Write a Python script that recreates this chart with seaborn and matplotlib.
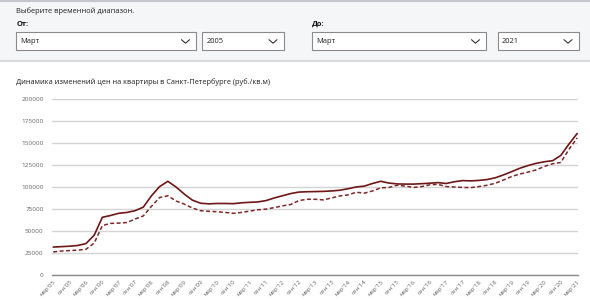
import numpy as np
import pandas as pd
import matplotlib
matplotlib.use('Agg')
import matplotlib.pyplot as plt
from matplotlib.patches import Rectangle
import seaborn as sns

# квартальные значения, март 2005 - март 2021 (руб./кв.м)
price_solid = [31500, 32000, 32500, 33300, 35500, 45000, 65500, 67500, 70000, 71000,
               73000, 77000, 90000, 100500, 106500, 100000, 92000, 85000, 81500, 80800,
               81200, 81200, 81000, 82000, 82500, 83000, 84500, 87500, 90000, 92500,
               94200, 94600, 94800, 95000, 95500, 96300, 98000, 100000, 101000, 104000,
               106500, 104500, 103500, 103300, 103300, 103800, 104300, 105000, 104000, 106000,
               107300, 107000, 107500, 108500, 110500, 113800, 117500, 121400, 124500, 127000,
               128800, 130000, 136000, 149000, 161000]
price_dashed = [26000, 27000, 27500, 28000, 29000, 36000, 56000, 58500, 58800, 59500,
                63500, 67000, 78000, 88000, 90000, 84000, 80500, 76000, 73000, 72300,
                71800, 71000, 70000, 71000, 72500, 74000, 74800, 76500, 78500, 80000,
                84500, 86000, 86000, 85300, 87500, 89800, 91000, 94000, 93000, 95500,
                99000, 99500, 102000, 101000, 99500, 100500, 102500, 103000, 100500, 100000,
                99500, 99300, 100500, 102000, 104300, 108000, 112000, 114800, 117000, 119500,
                123500, 126500, 128000, 143000, 156000]
years = list(range(5, 22))
tick_labels = []
for y in years:
    tick_labels.append("мар'%02d" % y)
    if y < 21:
        tick_labels.append("сен'%02d" % y)
y_ticks = [0, 25000, 50000, 75000, 100000, 125000, 150000, 175000, 200000]

df = pd.DataFrame({
    'q': np.arange(len(price_solid)),
    'solid': price_solid,
    'dashed': price_dashed,
})

sns.set_style('white')
plt.rcParams['font.family'] = ['Open Sans', 'DejaVu Sans']

fig = plt.figure(figsize=(5.9, 3.0), dpi=100)
W, H = 590, 300

# верхняя панель выбора диапазона
top = fig.add_axes([0, 1 - 62 / H, 1, 62 / H])
top.set_xlim(0, W)
top.set_ylim(62, 0)
top.axis('off')
top.add_patch(Rectangle((0, 0), W, 60, facecolor='#f4f6f8', edgecolor='none'))
top.plot([0, W], [0.8, 0.8], color='#c4c7ca', lw=1.5)
top.plot([0, W], [60.5, 60.5], color='#d9dbdd', lw=1.5)
top.text(16.5, 11, 'Выберите временной диапазон.', fontsize=5.4, color='#222222', va='center')
top.text(16.5, 24, 'От:', fontsize=5.4, color='#111111', va='center', weight='bold')
top.text(312, 24, 'До:', fontsize=5.4, color='#111111', va='center', weight='bold')

boxes = [(16, 196, 'Март'), (202, 283.5, '2005'), (312, 486, 'Март'), (497.5, 578.5, '2021')]
for x0, x1, label in boxes:
    top.add_patch(Rectangle((x0, 32.3), x1 - x0, 17.7, facecolor='white',
                            edgecolor='#8a8a8a', lw=0.8))
    top.text(x0 + 4.5, 41.5, label, fontsize=5.4, color='#222222', va='center')
    cx = x1 - 10.5
    top.plot([cx - 4, cx, cx + 4], [39.7, 43.2, 39.7], color='#333333', lw=0.8)

fig.text(16 / W, 1 - 82.5 / H, 'Динамика изменений цен на квартиры в Санкт-Петербурге (руб./кв.м)',
         fontsize=5.3, color='#222222', va='center')

# график
ax = fig.add_axes([52 / W, 1 - 274.7 / H, 526 / W, 175.4 / H])
sns.lineplot(data=df, x='q', y='solid', ax=ax, color='#6e1618', lw=1.2)
sns.lineplot(data=df, x='q', y='dashed', ax=ax, color='#7e2628', lw=1.1, dashes=False)
ax.lines[0].set_solid_joinstyle('round')
ax.lines[-1].set_dashes([2.6, 1.6])
ax.lines[-1].set_dash_joinstyle('round')

ax.set_xlim(-0.15, 64.1)
ax.set_ylim(0, 200000)
ax.set_yticks(y_ticks)
ax.set_yticklabels([str(v) for v in y_ticks], fontsize=4.6, color='#666666')
ax.set_xticks(np.arange(0, 65, 2))
ax.set_xticklabels(tick_labels, rotation=45, ha='right', rotation_mode='anchor',
                   fontsize=4.4, color='#666666')
ax.tick_params(axis='both', length=0, pad=3)
ax.tick_params(axis='y', pad=6)
ax.set_xlabel('')
ax.set_ylabel('')
ax.grid(axis='y', color='#d3d3d3', lw=1.0)
ax.set_axisbelow(True)
for s in ['top', 'right', 'left']:
    ax.spines[s].set_visible(False)
ax.spines['bottom'].set_color('#8a8a8a')
ax.spines['bottom'].set_linewidth(1.0)

fig.savefig('out.png', dpi=100, facecolor='white')
